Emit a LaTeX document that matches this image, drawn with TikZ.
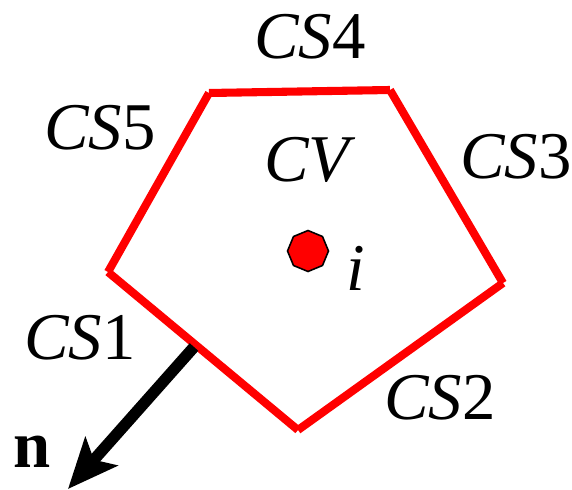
\documentclass[tikz,border=0pt]{standalone}
\usepackage{fontspec}
\setmainfont{Liberation Serif}
\usetikzlibrary{shapes.geometric, arrows.meta}

\tikzset{
    face/.style={red, line width=4.6pt, line cap=butt},
    lbl/.style={font=\fontsize{38}{44}\selectfont\itshape},
}

\begin{document}
\begin{tikzpicture}[x=0.02cm, y=-0.02cm]
    \useasboundingbox (0,0) rectangle (572,490);
    % corners of the control volume
    \coordinate (A) at (209,93);
    \coordinate (B) at (390,90);
    \coordinate (C) at (503,283);
    \coordinate (D) at (298,430);
    \coordinate (E) at (108,272);
    % faces
    \draw[face] (A) -- (B);
    \draw[face] (B) -- (C);
    \draw[face] (C) -- (D);
    \draw[face] (D) -- (E);
    \draw[face] (E) -- (A);
    % labels
    \node[lbl] (cs4) at (310,37) {CS\upshape 4};
    \node[lbl] (cs5) at (100,128) {CS\upshape 5};
    \node[lbl] (cs3) at (516,157) {CS\upshape 3};
    \node[lbl] (cs1) at (80,338) {CS\upshape 1};
    \node[lbl] (cs2) at (440,398) {CS\upshape 2};
    \node[lbl] (cv) at (307,160) {CV};
    % node point
    \node[regular polygon, regular polygon sides=8, shape border rotate=22.5,
          fill=red, draw=black, line width=0.9pt, minimum size=0.82cm,
          inner sep=0pt] (pt) at (308,251) {};
    \node[lbl] (ilbl) at (356,268) {i};
    % normal vector
    \coordinate (nbase) at (194,347);
    \coordinate (ntip) at (68,489);
    \draw[line width=6.5pt, -{Stealth[length=1.0cm, width=0.85cm, inset=0.22cm]}] (nbase) -- (ntip);
    \node[font=\fontsize{38}{44}\selectfont\bfseries] (nlbl) at (32,452) {n};
\end{tikzpicture}
\end{document}
